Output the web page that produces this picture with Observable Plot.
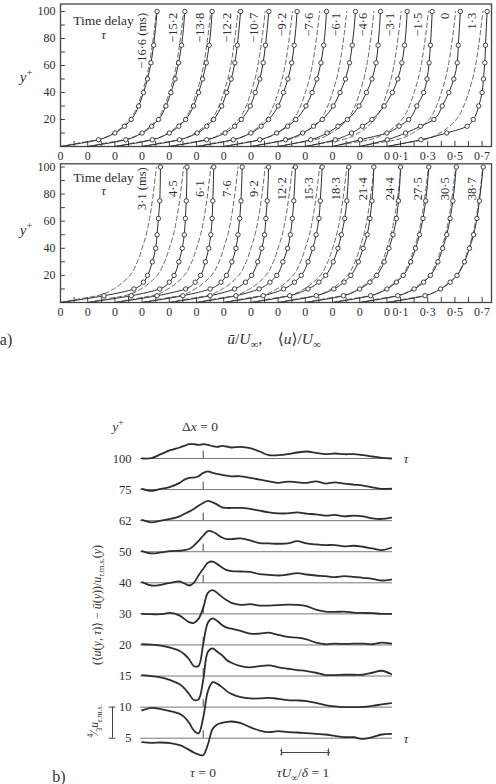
<!DOCTYPE html>
<html><head><meta charset="utf-8">
<script src="https://cdn.jsdelivr.net/npm/d3@7"></script>
<script src="https://cdn.jsdelivr.net/npm/@observablehq/plot@0.6"></script>
<style>
body{margin:0;background:#fff;}
#wrap{position:relative;width:496px;height:784px;overflow:hidden;font-family:"Liberation Serif","DejaVu Serif",serif;color:#333;background:#fff}
.abs{position:absolute;white-space:nowrap;transform:translate(-50%,-50%);line-height:1}
.rot{transform:translate(-50%,-50%) rotate(-90deg)}
.svgbox{position:absolute;left:0}
sub,sup{font-size:70%;line-height:0}
</style></head><body><div id="wrap"></div>
<script>
// ---------- (a) velocity profiles ----------
const profileYPlus = [5, 10, 15, 20, 30, 40, 50, 62, 75, 100];
const meanYPlus = [0, 2, 5, 10, 15, 20, 30, 40, 50, 62, 75, 100];
const meanU = [0, 0.10, 0.27, 0.39, 0.46, 0.51, 0.565, 0.60, 0.63, 0.655, 0.675, 0.705];
const delaysBefore = ["−16·6 (ms)", "−15·2", "−13·8", "−12·2", "−10·7", "−9·2", "−7·6", "−6·1", "−4·6", "−3·1", "−1·5", "0", "1·3"];
const profilesBefore = [
  [0.28, 0.40, 0.47, 0.52, 0.575, 0.61, 0.64, 0.665, 0.685, 0.71],
  [0.28, 0.40, 0.47, 0.52, 0.575, 0.612, 0.642, 0.668, 0.69, 0.714],
  [0.275, 0.40, 0.47, 0.52, 0.578, 0.615, 0.645, 0.672, 0.693, 0.715],
  [0.275, 0.405, 0.475, 0.525, 0.585, 0.622, 0.655, 0.682, 0.70, 0.724],
  [0.275, 0.41, 0.48, 0.53, 0.595, 0.632, 0.665, 0.69, 0.707, 0.732],
  [0.27, 0.40, 0.475, 0.53, 0.60, 0.64, 0.672, 0.70, 0.718, 0.74],
  [0.265, 0.39, 0.47, 0.53, 0.605, 0.65, 0.685, 0.715, 0.735, 0.756],
  [0.255, 0.38, 0.46, 0.525, 0.605, 0.655, 0.695, 0.725, 0.745, 0.769],
  [0.24, 0.36, 0.44, 0.51, 0.595, 0.65, 0.69, 0.72, 0.735, 0.753],
  [0.22, 0.34, 0.42, 0.49, 0.58, 0.64, 0.68, 0.71, 0.73, 0.749],
  [0.205, 0.40, 0.49, 0.56, 0.62, 0.67, 0.695, 0.71, 0.72, 0.733],
  [0.202, 0.337, 0.447, 0.545, 0.607, 0.655, 0.692, 0.717, 0.725, 0.74],
  [0.25, 0.44, 0.59, 0.635, 0.675, 0.70, 0.71, 0.72, 0.725, 0.737]
];
const delaysAfter = ["3·1 (ms)", "4·5", "6·1", "7·6", "9·2", "12·2", "15·3", "18·3", "21·4", "24·4", "27·5", "30·5", "38·7"];
const profilesAfter = [
  [0.32, 0.54, 0.61, 0.64, 0.675, 0.70, 0.71, 0.72, 0.73, 0.735],
  [0.32, 0.53, 0.60, 0.635, 0.67, 0.695, 0.71, 0.718, 0.725, 0.73],
  [0.31, 0.52, 0.59, 0.63, 0.665, 0.69, 0.705, 0.715, 0.72, 0.727],
  [0.30, 0.50, 0.58, 0.62, 0.66, 0.69, 0.705, 0.718, 0.727, 0.736],
  [0.30, 0.48, 0.56, 0.605, 0.65, 0.68, 0.70, 0.71, 0.72, 0.73],
  [0.29, 0.46, 0.54, 0.59, 0.635, 0.67, 0.69, 0.705, 0.715, 0.728],
  [0.29, 0.44, 0.52, 0.57, 0.62, 0.655, 0.68, 0.70, 0.71, 0.724],
  [0.285, 0.42, 0.50, 0.55, 0.605, 0.64, 0.665, 0.69, 0.705, 0.72],
  [0.28, 0.41, 0.485, 0.535, 0.59, 0.625, 0.655, 0.675, 0.69, 0.704],
  [0.28, 0.40, 0.475, 0.525, 0.58, 0.615, 0.645, 0.67, 0.685, 0.70],
  [0.28, 0.40, 0.47, 0.52, 0.575, 0.61, 0.64, 0.665, 0.685, 0.708],
  [0.28, 0.40, 0.47, 0.52, 0.575, 0.61, 0.64, 0.665, 0.685, 0.71],
  [0.28, 0.395, 0.465, 0.515, 0.57, 0.607, 0.637, 0.662, 0.68, 0.708]
];
const SHIFT = 0.2;               // each profile is displaced by 0.2 U∞
const decimalTicks = [0.1, 0.3, 0.5, 0.7];
const decimalTickLabels = ["0·1", "0·3", "0·5", "0·7"];
const yTicksA = [20, 40, 60, 80, 100];

// ---------- (b) conditional-average traces ----------
const rowsYPlus = [100, 75, 62, 50, 40, 30, 20, 15, 10, 5];
const tauGrid = [-1.3,-1.1,-0.9,-0.7,-0.5,-0.4,-0.3,-0.2,-0.1,0,0.1,0.2,0.3,0.4,0.5,0.6,0.8,1.0,1.2,1.4,1.6,1.8,2.0,2.2,2.4,2.6,2.8,3.0,3.2,3.4,3.6,3.8,4.0];
// offsets from each zero line, in units where the scale bar (4/3 u_r.m.s.) = 31.1
const trace100 = [0,0.3,4.3,8.3,11,12.7,14.3,14.3,13.7,14.3,13.7,12.3,11.7,12.7,12,11,11.7,10.3,7,3.3,3.3,4.3,6,7,5.7,4.3,5,4.3,4.3,3.3,2,0.7,0];
const trace75 = [0.7,-1.3,0.7,2.7,6.7,10,11.7,12,13.3,16.7,18.3,16.7,15.7,14.7,14,13.3,13.3,11.7,10,8.3,6.7,8,7.3,6.7,8.3,6,7.3,6,5,4,2.3,0.7,1];
const trace62 = [0.7,-1.7,0,1.7,4.3,6.7,9,11.7,15,17.7,19.7,18.3,16,13.3,12.7,12.7,12.7,11.7,10,8.3,7.3,7.3,8.3,7,6.3,5,5.7,4.3,5,4.3,2.3,1.7,3];
const trace50 = [0.7,-1.7,-0.7,0.7,1,1.7,2.7,6,10.7,16,20.7,20,17.3,14.3,12.7,12.7,13.3,11.3,8.7,8.3,8,8.3,10.7,8.3,7.3,6.7,6.7,5.3,6,5,3.3,1.7,4];
const trace40 = [0.7,-2.7,-2,0,1.3,-0.7,-2.7,0,7.3,14,20,21.3,18.7,15.3,12.7,11.7,11.3,11,8.7,8,7.3,8.3,9.7,8.3,7.3,6.7,5.7,6.7,6,5,4,2.3,3.3];
const trace30 = [0,-0.3,-0.3,1,-1.7,-5,-8.3,-9,-5,6,21,23.7,21,17,13.7,11,9,9.7,8.3,8.3,8.7,9.3,9,7.7,4.3,2.3,2,2.3,1.3,1,0.7,0,0];
const trace20 = [0.7,0.3,-0.7,-2.7,-6,-9.3,-14.3,-21,-21,0.7,22.3,26.7,24,20,17.3,16.3,14,11.3,11.3,12.3,10,8,7.3,5.7,2.3,0.7,1.3,1,1.3,1.3,0.7,2.3,1.3];
const trace15 = [1,0,-1.3,-4,-8.3,-12.3,-18,-24,-23.3,-4,24.3,27.7,24.3,21,16,13.3,10,8.7,10,10.7,8.7,7.3,6,5,3.3,1,1,1.3,1.3,1.3,3.3,5.3,2];
const trace10 = [-3.3,-0.7,-2,-4,-6.7,-10,-15.7,-23.3,-26.3,-10.7,16,25,23.3,20,16,13.3,10,8.7,8.7,9.3,8.3,7,6.7,6,4.3,2,0.7,0,0,0.3,1.3,2.7,4];
const trace5 = [-4,-4.7,-4.3,-5,-7,-9,-11.7,-14.3,-16.3,-17,-6.3,9.3,13.7,15.3,16.3,16.7,15,11,7.7,6,7,6,5.7,5,4.3,3.7,2.3,1,1,-0.7,1,3.7,4.3];
const traces = [trace100, trace75, trace62, trace50, trace40, trace30, trace20, trace15, trace10, trace5];
const ROW = 31.1;          // spacing of zero lines = scale bar (4/3 u_r.m.s.)
const tauScaleStart = 1.667, tauScaleLength = 1;   // τU∞/δ = 1 bar

const wrap = document.getElementById("wrap");
const INK = "#2e2e2e";
const baseStyle = {fontFamily: '"Liberation Serif","DejaVu Serif",serif', fontSize: "11px", color: INK, background: "none", overflow: "visible"};

function panel(cfg) {
  const solid = [], circles = [], dashed = [];
  cfg.profiles.forEach((p, i) => {
    const x0 = i * SHIFT;
    solid.push({k: i, x: x0, y: 0});
    p.forEach((u, j) => {
      solid.push({k: i, x: x0 + u, y: profileYPlus[j]});
      circles.push({x: x0 + u, y: profileYPlus[j]});
    });
    meanYPlus.forEach((yp, j) => dashed.push({k: i, x: x0 + meanU[j], y: yp}));
  });
  const origins = cfg.profiles.map((_, i) => i * SHIFT);
  const last = origins[origins.length - 1];
  const tickVals = origins.concat(decimalTicks.map(v => last + v));
  const tickText = origins.map(() => "0").concat(decimalTickLabels);
  const fmt = d => tickText[tickVals.findIndex(v => Math.abs(v - d) < 1e-6)];
  const minor = d3.range(1, 32).map(k => k / 10);
  return Plot.plot({
    width: 496, height: cfg.height,
    marginLeft: 60, marginRight: 5, marginTop: cfg.frameTop, marginBottom: cfg.height - cfg.y0,
    x: {domain: [0, 3.169], range: [60, 491]},
    y: {domain: [0, 100], range: [cfg.y0, cfg.y100]},
    style: baseStyle,
    marks: [
      Plot.frame({stroke: "#444", strokeWidth: 1.3}),
      Plot.ruleY(d3.range(10, 101, 10), {x1: 0, x2: 0.036, stroke: "#444"}),
      Plot.ruleX(minor, {y1: 0, y2: 3.8, stroke: "#444"}),
      Plot.axisY(yTicksA, {tickSize: 0, tickPadding: 5, label: null, fontSize: 12, fill: INK}),
      Plot.axisX(tickVals, {tickSize: 0, tickPadding: 5, tickFormat: fmt, label: null, fontSize: 12, fill: INK}),
      Plot.line(dashed, {x: "x", y: "y", z: "k", curve: "monotone-y", stroke: "#555", strokeWidth: 0.9, strokeDasharray: "4.5,3"}),
      Plot.line(solid, {x: "x", y: "y", z: "k", curve: "monotone-y", stroke: INK, strokeWidth: 1}),
      Plot.dot(circles, {x: "x", y: "y", r: 2.2, fill: "white", stroke: INK, strokeWidth: 0.9}),
      Plot.text(cfg.delays, {x: (d, i) => i * SHIFT + (i === 0 ? 0.6 : 0.625), y: cfg.labelY, text: d => d, rotate: -90,
        textAnchor: cfg.labelAnchor, lineAnchor: "middle", fontSize: 12.5, fill: INK}),
      Plot.text(["Time delay"], {frameAnchor: "top-left", dx: 43, dy: cfg.titleDy, textAnchor: "middle", lineAnchor: "middle", fontSize: 13.5, fill: INK}),
      Plot.text(["τ"], {frameAnchor: "top-left", dx: 43, dy: cfg.titleDy + 14, textAnchor: "middle", lineAnchor: "middle", fontSize: 13, fontStyle: "italic", fill: INK})
    ]
  });
}

function place(node, top) {
  const box = document.createElement("div");
  box.className = "svgbox";
  box.style.top = top + "px";
  box.appendChild(node);
  wrap.appendChild(box);
}
function label(html, x, y, size, extra) {
  const d = document.createElement("div");
  d.className = "abs" + (extra ? " " + extra : "");
  d.style.left = x + "px"; d.style.top = y + "px"; d.style.fontSize = size + "px";
  d.innerHTML = html;
  wrap.appendChild(d);
}

place(panel({delays: delaysBefore, profiles: profilesBefore, height: 158, frameTop: 3.5, y0: 146, y100: 11,
  labelY: 99, labelAnchor: "end", titleDy: 17}), 0);
place(panel({delays: delaysAfter, profiles: profilesAfter, height: 170, frameTop: 5.3, y0: 144, y100: 8.5,
  labelY: 84, labelAnchor: "middle", titleDy: 13.5}), 158);

label("<i>y</i><sup>+</sup>", 26, 77, 15);
label("<i>y</i><sup>+</sup>", 26, 230, 15);
label("<i>ū</i>/<i>U</i><sub>∞</sub>,&nbsp;&nbsp;&nbsp;&nbsp;⟨<i>u</i>⟩/<i>U</i><sub>∞</sub>", 274, 339, 15.5);
label("a)", 6, 340, 16);

// ---------- (b) plot ----------
const levels = rowsYPlus.map((_, k) => (rowsYPlus.length - 1 - k) * ROW);
const traceData = [];
traces.forEach((t, k) => t.forEach((v, j) => traceData.push({k, tau: tauGrid[j], y: levels[k] + v})));
const barY = -14.3;
const vBarX = -1.93;
const chartB = Plot.plot({
  width: 496, height: 384,
  marginLeft: 140, marginRight: 104, marginTop: 58, marginBottom: 46.3,
  x: {domain: [-1.334, 4.028], range: [140, 392], axis: null},
  y: {domain: [0, (rowsYPlus.length - 1) * ROW], range: [337.7, 58]},
  style: baseStyle,
  marks: [
    Plot.ruleY(levels, {stroke: "#666", strokeWidth: 0.9}),
    Plot.axisY(levels, {tickSize: 0, tickPadding: 9, label: null, fontSize: 12.5, fill: INK,
      tickFormat: d => String(rowsYPlus[Math.round(rowsYPlus.length - 1 - d / ROW)])}),
    Plot.ruleX(levels, {x: () => 0, y1: d => d, y2: d => d + 7.5, stroke: "#444", strokeWidth: 1}),
    Plot.line(traceData, {x: "tau", y: "y", z: "k", curve: "catmull-rom", stroke: INK, strokeWidth: 1.8}),
    Plot.link([0], {x1: tauScaleStart, x2: tauScaleStart + tauScaleLength, y1: barY, y2: barY,
      stroke: "#444", strokeWidth: 1, markerStart: "arrow", markerEnd: "arrow"}),
    Plot.ruleX([tauScaleStart, tauScaleStart + tauScaleLength], {y1: barY - 3.5, y2: barY + 3.5, stroke: "#444"}),
    Plot.ruleX([vBarX], {y1: 0, y2: ROW, stroke: "#444", strokeWidth: 1}),
    Plot.ruleY([0, ROW], {x1: vBarX - 0.07, x2: vBarX + 0.07, stroke: "#444", strokeWidth: 1})
  ]
});
place(chartB, 400);

label("<i>y</i><sup>+</sup>", 118, 427, 13.5);
label("Δ<i>x</i> = 0", 200, 427, 13.5);
label("<i>τ</i>", 406, 458, 13);
label("<i>τ</i>", 406, 738, 13);
label("<i>τ</i> = 0", 203, 773, 13.5);
label("<i>τU</i><sub>∞</sub>/<i>δ</i> = 1", 303, 773, 13.5);
label("(⟨<i>u</i>(<i>y</i>, <i>τ</i>)⟩ − <i>ū</i>(<i>y</i>))/<i>u</i><sub>r.m.s.</sub>(<i>y</i>)", 97, 605, 12, "rot");
label("<sup>4</sup>⁄<sub>3</sub><i>u</i><sub>r.m.s.</sub>", 95, 721, 11.5, "rot");
label("b)", 59, 777, 16);
</script></body></html>
